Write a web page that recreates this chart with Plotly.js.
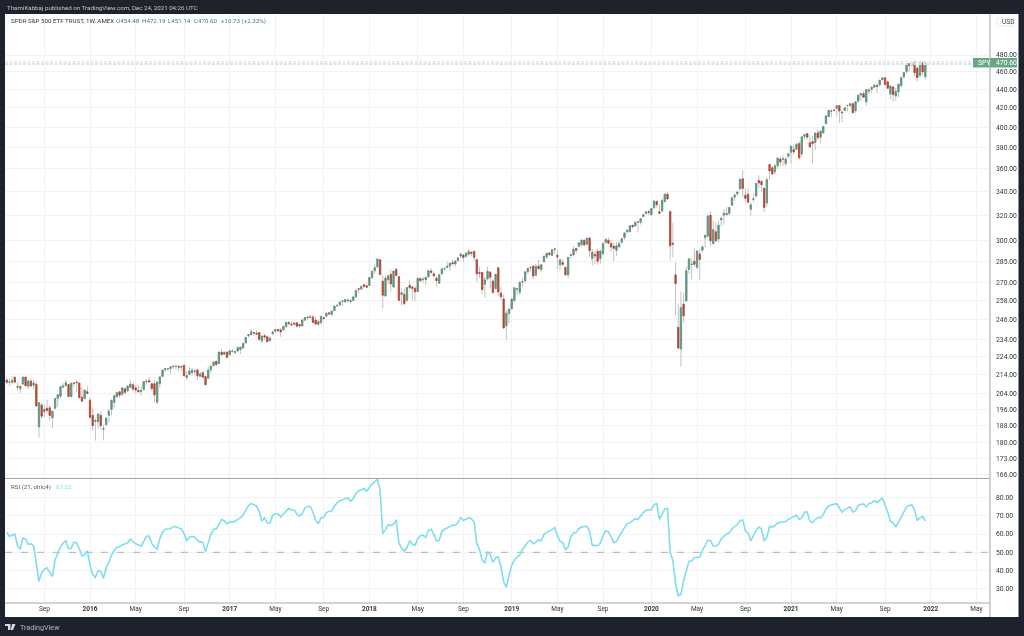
<!DOCTYPE html>
<html><head><meta charset="utf-8">
<script src="https://cdn.plot.ly/plotly-3.0.1.min.js"></script>
<style>html,body{margin:0;padding:0;background:#1e222d;overflow:hidden}#c{width:1024px;height:636px;filter:blur(0.35px)}</style>
</head><body><div id="c"></div>
<script>
// Weekly bars of SPY; first bar is the week of 2015-06-01
const firstWeek = '2015-06-01';
const opens = [
211.0,209.8,209.9,212.5,207.5,206.5,208.9,212.6,207.7,210.5,
208.3,208.7,187.5,198.1,194.8,196.5,196.7,191.8,196.5,201.4,
202.5,207.3,208.1,208.6,202.3,209.4,209.8,209.4,202.1,201.4,
204.9,200.5,193.0,190.0,189.9,193.0,186.2,188.5,193.0,195.9,
199.4,202.3,204.8,203.6,206.4,205.3,207.2,208.5,206.9,205.6,
205.0,206.0,210.0,210.7,209.0,209.1,199.5,209.1,213.0,216.5,
217.0,217.2,218.3,218.3,218.3,218.0,219.0,212.4,214.0,215.0,
215.8,216.5,213.0,215.0,212.9,212.0,216.5,218.8,221.2,220.0,
226.4,225.2,226.5,225.0,226.9,226.3,227.1,227.9,229.0,231.7,
236.0,236.7,237.9,237.6,237.9,233.0,236.0,235.4,233.1,237.2,
238.7,239.8,239.5,239.5,241.5,244.0,243.0,243.6,243.9,242.9,
241.9,245.5,247.0,247.5,247.5,245.6,243.0,244.0,247.0,248.0,
250.1,249.2,251.5,254.5,255.2,257.5,257.2,258.3,257.3,258.0,
260.4,265.8,265.6,268.5,267.8,268.0,273.3,278.2,281.0,286.0,
271.0,261.0,271.9,275.7,267.0,279.2,274.0,262.0,262.0,258.0,
268.0,267.0,266.0,264.0,272.8,272.0,272.0,274.0,278.0,276.0,
273.0,269.5,276.0,279.6,280.5,281.5,284.0,283.0,285.5,288.7,
289.5,288.5,290.0,291.5,292.0,286.0,277.0,277.0,268.8,272.5,
277.2,271.0,266.0,280.3,263.0,259.0,242.0,249.6,252.7,258.0,
265.5,263.4,270.5,271.2,277.5,280.5,281.5,275.0,281.5,279.0,
284.7,288.1,291.0,289.2,293.5,289.3,282.4,284.0,280.5,275.3,
289.4,289.5,294.2,296.0,297.0,300.5,297.5,302.3,287.0,289.9,
292.2,287.0,290.5,299.0,300.5,298.0,296.0,293.0,295.5,299.0,
302.5,307.0,307.0,312.0,311.5,314.5,314.5,319.0,321.6,322.9,
320.5,326.4,331.5,323.0,323.5,331.2,337.7,323.1,298.2,275.3,
241.2,228.2,255.7,257.8,279.0,282.6,285.0,280.7,290.3,293.0,
302.5,303.6,320.2,298.0,307.0,301.4,316.4,320.1,321.4,321.6,
328.3,335.1,338.0,342.1,351.0,336.7,337.5,325.0,333.2,336.1,
349.6,348.7,342.8,330.2,363.9,360.9,357.3,362.8,369.0,368.6,
364.9,371.7,375.3,377.9,378.3,383.7,373.7,390.7,393.5,384.5,
385.6,384.7,394.3,390.0,394.4,403.5,410.9,416.3,417.4,419.4,
422.5,415.4,417.3,422.6,422.6,424.4,416.8,427.2,433.8,435.4,
426.2,439.3,440.3,442.5,444.5,445.2,451.0,453.3,448.6,434.9,
442.8,433.0,437.2,444.0,454.3,460.3,469.7,468.6,470.9,464.1,
456.1,470.2,454.48];
const highs = [
212.3,212.0,213.3,213.0,210.0,208.2,213.1,213.0,211.3,211.5,
211.3,210.6,199.5,199.1,198.0,200.8,197.8,195.2,201.9,203.6,
207.6,209.4,211.2,208.9,209.6,210.0,211.0,209.9,207.4,206.0,
208.0,201.9,196.9,191.5,194.0,195.0,188.5,192.2,196.0,201.0,
202.8,205.0,204.9,207.0,207.0,208.4,210.9,209.8,208.2,208.5,
208.0,210.3,211.5,212.5,209.9,210.9,210.5,213.0,216.5,217.5,
217.5,218.2,219.0,219.3,219.0,218.9,219.3,216.0,218.0,217.5,
216.8,216.9,215.3,215.5,213.0,218.3,219.3,221.0,221.5,226.5,
228.3,226.9,226.7,227.8,228.3,227.6,229.7,229.6,231.5,235.2,
237.0,240.3,238.3,239.4,238.0,236.5,237.4,236.3,235.8,239.5,
239.7,240.2,240.7,241.9,244.4,245.0,244.9,244.5,244.4,243.4,
245.9,247.5,248.0,248.9,248.9,247.8,245.6,247.8,247.8,250.1,
250.7,251.3,254.4,255.0,257.1,258.4,258.7,259.3,259.0,260.5,
266.0,266.4,268.0,268.6,268.6,274.0,278.1,282.8,286.6,286.6,
275.4,275.0,274.7,278.9,278.0,280.0,275.0,265.9,266.0,267.0,
271.3,267.9,267.8,273.2,273.5,274.0,274.0,278.9,280.0,277.5,
274.4,276.0,280.0,281.0,284.5,283.7,286.0,285.8,287.6,291.0,
290.0,291.3,293.9,292.0,293.2,287.0,281.0,277.5,274.0,281.0,
278.0,272.0,275.9,280.4,267.0,262.0,252.0,253.0,259.0,266.9,
266.5,271.2,273.4,277.4,280.0,281.3,281.9,283.0,286.0,282.6,
288.9,290.7,291.0,293.5,294.9,293.3,287.0,286.5,281.0,288.0,
291.0,296.3,295.0,298.8,300.7,301.0,302.2,302.3,294.0,293.0,
294.0,293.3,298.8,302.5,302.6,300.9,298.5,299.4,300.0,302.0,
306.2,308.3,311.8,312.7,315.5,315.0,318.0,321.0,323.0,324.9,
326.0,332.2,332.2,329.0,334.2,338.1,339.1,324.0,313.8,284.2,
256.0,264.0,263.0,281.2,287.3,286.8,294.9,292.9,294.0,297.0,
304.3,321.0,323.4,315.6,314.5,315.7,319.0,325.0,327.2,326.6,
335.0,338.0,339.7,351.0,358.8,342.6,343.1,331.0,338.3,347.3,
354.0,349.6,342.9,352.2,364.4,362.0,364.2,369.9,371.0,372.5,
371.0,374.7,381.5,382.0,385.0,385.9,390.5,392.9,394.2,392.0,
390.9,394.2,398.1,396.4,400.7,412.0,417.9,418.3,419.0,422.8,
422.7,418.0,421.3,423.0,424.6,425.5,427.1,434.1,435.8,437.9,
440.3,441.8,442.9,445.3,447.1,451.0,454.0,454.1,448.9,444.9,
444.0,441.7,446.3,454.7,459.6,469.7,470.2,470.9,473.5,466.6,
470.9,472.9,472.19];
const lows = [
208.9,207.9,208.7,209.5,205.3,204.2,208.5,207.9,206.3,207.1,
206.0,197.5,182.4,191.2,192.0,194.0,190.3,186.9,196.0,197.3,
201.5,206.5,207.7,202.0,202.2,207.3,204.5,201.3,199.8,200.8,
203.8,191.4,185.7,181.0,186.8,186.5,181.1,188.1,189.8,192.9,
196.8,201.8,201.9,202.8,203.1,205.0,207.0,204.6,204.0,204.8,
202.8,205.7,208.5,209.9,205.0,199.5,198.6,207.0,213.0,215.3,
215.6,214.3,217.0,216.5,215.8,216.0,213.2,210.9,213.5,213.0,
213.5,211.2,212.5,212.0,208.4,211.5,214.5,218.7,218.4,219.8,
224.7,224.9,222.7,224.5,226.0,225.2,226.6,225.4,228.0,231.7,
235.0,236.0,235.8,237.0,232.8,231.6,233.5,232.5,232.8,236.9,
237.6,238.4,235.4,239.4,240.9,242.5,242.5,242.4,241.0,240.5,
241.5,245.1,245.6,246.5,243.7,242.5,241.8,242.7,245.7,247.9,
248.9,248.0,251.4,253.7,254.4,254.6,256.3,256.4,256.2,257.5,
259.6,262.7,264.9,266.5,266.0,267.9,273.2,276.0,280.0,275.4,
252.9,260.5,268.8,264.0,266.0,274.0,258.0,255.0,254.7,258.0,
265.7,257.8,257.8,263.5,270.1,270.0,268.0,273.5,276.0,273.4,
267.3,269.0,275.5,278.0,280.0,278.0,282.5,281.0,284.5,287.3,
284.5,287.5,288.5,288.6,285.0,270.4,273.0,262.3,259.85,271.5,
266.0,262.5,265.5,261.0,258.0,240.0,233.8,243.7,252.4,257.0,
261.5,261.7,267.0,269.6,276.0,277.5,272.4,274.4,279.0,277.0,
283.7,286.5,288.9,289.0,290.3,279.0,278.5,281.5,275.0,273.0,
287.0,288.5,290.6,295.4,295.9,296.1,297.0,288.0,281.7,283.0,
282.5,283.0,289.3,298.0,297.6,292.0,284.8,288.5,295.0,298.0,
301.0,306.0,306.8,309.5,311.0,307.0,312.6,318.9,321.0,320.0,
320.0,325.0,326.4,320.8,323.4,331.0,333.0,285.5,287.8,248.5,
228.0,218.3,243.9,257.0,275.9,272.0,281.0,279.0,272.0,291.0,
295.0,303.0,296.0,296.7,298.9,298.9,311.0,312.4,319.0,319.6,
327.7,332.0,336.2,341.5,334.9,331.4,330.0,319.8,331.0,334.7,
343.1,340.0,322.6,327.2,349.9,354.0,354.9,360.0,362.0,362.5,
362.0,369.5,364.8,373.0,378.0,368.3,371.0,387.5,387.7,380.2,
364.8,377.5,387.2,383.9,392.8,403.0,410.2,410.6,416.0,411.7,
404.0,405.3,416.9,416.3,420.6,414.7,414.7,425.6,427.5,430.9,
421.9,435.0,436.0,441.3,436.1,443.0,450.0,445.0,441.0,428.9,
426.4,427.0,431.5,443.5,452.0,458.2,460.0,465.0,454.9,448.9,
453.6,456.0,451.14];
const closes = [
209.8,210.0,210.8,209.9,207.3,207.7,212.5,208.0,210.5,207.9,
209.4,197.6,199.3,192.6,196.0,195.4,192.9,195.0,201.3,203.3,
207.5,207.9,209.6,202.4,209.3,209.3,209.6,201.9,200.0,205.7,
203.9,192.0,188.0,190.5,193.7,188.0,186.6,191.6,195.1,200.4,
202.8,204.4,203.1,206.9,204.5,207.8,208.9,206.3,205.7,204.8,
205.5,210.2,210.3,210.0,206.5,203.2,209.9,212.7,216.4,217.2,
217.1,218.2,218.5,218.5,218.0,218.4,213.3,213.4,215.8,216.3,
215.8,213.3,214.3,212.5,208.5,216.4,218.5,220.9,219.5,226.5,
225.0,226.4,223.5,227.2,227.0,226.7,229.0,229.3,231.5,235.1,
236.7,238.4,237.7,237.0,233.9,235.7,235.2,232.5,234.6,238.1,
239.7,239.0,238.3,241.7,244.2,243.4,242.6,243.1,241.8,242.1,
245.6,247.1,247.4,247.4,244.1,243.1,244.6,247.8,246.6,249.9,
249.4,251.2,254.4,254.9,257.1,257.7,258.7,258.1,257.9,260.4,
264.5,265.5,267.3,267.5,266.9,273.4,277.9,280.4,286.6,275.5,
261.5,273.1,274.7,269.1,278.0,275.0,258.1,263.1,256.0,266.6,
266.6,266.0,263.8,272.9,271.3,272.2,273.6,278.2,277.1,274.7,
271.3,275.4,279.6,279.7,281.4,283.6,283.2,285.1,287.5,290.3,
287.6,290.9,292.0,290.7,287.8,276.0,276.3,265.3,271.9,277.8,
273.7,263.3,275.7,263.6,260.5,240.7,249.9,252.4,259.0,266.5,
265.8,270.1,270.4,277.4,279.9,280.4,274.5,281.3,279.6,282.5,
288.6,290.7,290.0,293.4,294.0,288.1,285.8,282.8,275.3,287.7,
289.3,293.7,293.0,298.5,300.7,297.0,302.0,292.6,291.6,288.9,
284.9,292.4,298.1,301.1,298.3,295.4,294.4,296.3,297.9,301.6,
306.1,308.3,311.8,311.0,314.3,314.9,317.3,320.7,322.9,322.4,
325.7,331.9,328.8,321.7,332.2,337.6,333.5,296.3,297.5,269.3,
228.8,253.4,248.2,278.2,286.6,283.0,282.8,292.4,286.3,295.4,
304.3,319.3,300.1,308.6,300.1,312.2,317.6,321.7,320.9,326.5,
334.6,336.8,339.5,350.6,342.6,334.1,330.7,328.7,333.8,346.9,
347.3,345.8,326.5,350.2,358.1,355.3,362.7,369.9,366.3,369.2,
369.0,373.9,381.3,375.7,382.9,370.1,390.3,392.6,390.0,380.4,
383.6,394.1,389.5,396.0,400.6,411.5,417.3,416.7,417.3,422.1,
416.6,414.9,420.0,422.6,424.3,414.9,426.6,433.7,435.5,431.3,
439.9,438.5,442.5,445.0,443.4,450.3,453.1,445.4,441.4,443.9,
434.2,437.9,445.9,453.1,459.25,468.5,467.3,468.9,459.0,453.4,
470.7,459.9,470.60];
const rsi = [
61,58.7,59.3,60,53.8,51.6,57.8,57.3,54.4,54.7,
53.5,43.8,34.2,38.9,40.7,41.6,38.9,36.7,46,49.3,
52.9,55.1,56.4,52,52.2,55.5,55.1,52,48,48.7,
50.9,42.9,38,36.3,40,39.6,35.8,41.6,44.5,48.4,
51.1,52.7,53.1,54.2,54.6,55.1,57.3,56,54.7,54.2,
53.3,56,58.6,58.9,54.9,52.9,51.8,57.5,61.1,62.6,
62.6,62.9,64,64,63.3,62.8,60.2,56.4,58.2,58.6,
58.4,56.6,55.5,55.5,50.5,55.6,59.8,62.6,62.8,65.3,
67.9,67.3,65.5,66.6,66.9,66.9,68,68.8,70.4,73.3,
75.5,76.6,76,75.3,72,67.1,68.9,66,66,70.2,
71.1,71.1,69.3,70.9,73,74,73.1,73.1,70.9,69.9,
71.1,74.2,75,75,72,67.5,65.7,68.8,69.1,71.7,
72.4,72.6,75.3,77,78,78.8,79.3,79.7,77.9,79.3,
82.1,83.5,84.1,84.8,83.5,85.3,87.3,88.4,89.9,83.9,
60.2,62.4,65.1,64.6,65.3,67.7,55.1,52.4,50.7,52.6,
56.2,54.4,53.8,57.5,59.1,59.3,58.2,62,62.6,59.8,
56.2,56.6,61.5,62.6,63.5,64,64.9,64.8,66.4,68.9,
67.5,68,68.9,68.2,66.6,54.9,51.5,45.6,44.4,50.4,
48.9,44.5,47,47.6,42,34,30.9,37.4,42.9,45.8,
47.1,48.7,51.5,53.8,55.6,56.4,54.7,55.5,56.9,56.2,
59.8,60.9,61.5,62.4,63.5,59.1,56,55.3,51.5,52.9,
58.7,60.4,60.9,62.9,63.8,64.2,64.2,61.3,53.8,53.8,
53.6,55.1,59.3,61.7,61.3,58.4,55.3,56,58.9,61.1,
63.5,65.7,66.2,67.3,68.4,68,69.9,71.7,73,73,
73.3,76,76.6,68,70.6,73.7,73.9,50,45.6,32.9,
26.3,27,34.7,40.2,45.1,45.3,47.1,47.3,47.5,50.9,
53.8,56.6,56.4,53.5,53.5,54.4,57.3,58.7,60,60.6,
62.9,64,65.1,67.3,67.7,61.5,60.6,56.2,59.3,62,
63.8,62.8,56.2,58.4,64.2,63.8,64.6,66,66.4,66.8,
66.8,68,68.9,69.5,70.4,68,68.8,72,72,67.1,
66.2,67.9,69.1,68.8,70.6,73.7,75.3,75.9,76.2,76.6,
74.2,71.9,73.3,74.2,74.8,72,72.6,75.5,76.2,76.4,
74.8,76.6,77.1,78.2,77.1,78.4,79.7,75.7,72,66.9,
66.2,63.8,66.6,69.7,72.6,74.8,75.5,75.9,73,67.5,
68.8,69.7,67.22];

const priceTicks = [480,460,440,420,400,380,360,340,320,300,285,270,258,246,234,224,214,204,196,188,180,173,166];
const rsiTicks = [80,70,60,50,40,30];
const timeTickDates = ['2015-09-07','2016-01-04','2016-05-02','2016-09-05','2017-01-02','2017-05-01','2017-09-04','2018-01-01','2018-05-07','2018-09-03','2019-01-07','2019-05-06','2019-09-02','2020-01-06','2020-05-04','2020-09-07','2021-01-04','2021-05-03','2021-09-06','2022-01-03','2022-05-02'];
const timeTickLabels = ['Sep','<b>2016</b>','May','Sep','<b>2017</b>','May','Sep','<b>2018</b>','May','Sep','<b>2019</b>','May','Sep','<b>2020</b>','May','Sep','<b>2021</b>','May','Sep','<b>2022</b>','May'];
const upperLastLine = 471.9, lowerLastLine = 469.2, rsiMidline = 50;
const xRange = ['2015-05-27 10:00','2022-06-06 12:00'];
const priceRange = [Math.log10(164.5), Math.log10(532.5)];
const rsiRange = [22.35, 90.3];

const GREEN='#649f83', RED='#c44836', WICK='#c2c2c2', BG='#1e222d', INK='#33363f', GRID='#f0f2f5';
const FONT='Roboto, "Open Sans", sans-serif';

const weeks = closes.map((_,i)=>new Date(Date.parse(firstWeek+'T00:00:00Z')+i*7*864e5).toISOString().slice(0,10));
const fmt2 = v=>v.toFixed(2);

// page-pixel helpers for the chrome only (frame, labels, logo)
const L=5,R=34,T=14,B=33,W=1024,H=636,PW=W-L-R,PH=H-T-B;
const X=p=>(p-L)/PW, Y=p=>(T+PH-p)/PH;
const pane = 478.5;

const traces = [
 {type:'candlestick',x:weeks,open:opens,high:highs,low:lows,close:closes,xaxis:'x',yaxis:'y',
  increasing:{line:{color:WICK,width:1},fillcolor:WICK},decreasing:{line:{color:WICK,width:1},fillcolor:WICK},
  whiskerwidth:0,hoverinfo:'skip',showlegend:false},
 {type:'candlestick',x:weeks,open:opens,close:closes,
  high:opens.map((o,i)=>Math.max(o,closes[i])),low:opens.map((o,i)=>Math.min(o,closes[i])),xaxis:'x',yaxis:'y',
  increasing:{line:{color:'#4f8f70',width:0.6},fillcolor:GREEN},decreasing:{line:{color:'#b23a2a',width:0.6},fillcolor:RED},
  whiskerwidth:0,hoverinfo:'skip',showlegend:false},
 {type:'scatter',mode:'lines',x:xRange,y:[upperLastLine,upperLastLine],xaxis:'x',yaxis:'y',line:{color:'#f6dfd4',width:1.4,dash:'3px,1.5px'},hoverinfo:'skip',showlegend:false},
 {type:'scatter',mode:'lines',x:xRange,y:[lowerLastLine,lowerLastLine],xaxis:'x',yaxis:'y',line:{color:'#cbe8f6',width:2,dash:'3px,1.5px'},hoverinfo:'skip',showlegend:false},
 {type:'scatter',mode:'lines',x:xRange,y:[rsiMidline,rsiMidline],xaxis:'x',yaxis:'y2',line:{color:'#b4b4b4',width:1,dash:'7px,9px'},hoverinfo:'skip',showlegend:false},
 {type:'scatter',mode:'lines',x:weeks,y:rsi,xaxis:'x',yaxis:'y2',line:{color:'#7fdeee',width:1.6},hoverinfo:'skip',showlegend:false}
];

const ann=(text,px,py,opt={})=>Object.assign({text,xref:'paper',yref:'paper',x:X(px),y:Y(py),xanchor:'left',yanchor:'middle',showarrow:false,font:{family:FONT,size:6.2,color:INK}},opt);
const box=(x0,y0,x1,y1,fill,layer='above')=>({type:'rect',xref:'paper',yref:'paper',x0:X(x0),x1:X(x1),y0:Y(y1),y1:Y(y0),fillcolor:fill,line:{width:0},layer});
const line=(x0,y0,x1,y1,color,width)=>({type:'line',xref:'paper',yref:'paper',x0:X(x0),x1:X(x1),y0:Y(y0),y1:Y(y1),line:{color,width},layer:'above'});
const pp=pts=>'M'+pts.map(([a,b])=>X(a)+','+Y(b)).join('L')+'Z';

const layout = {
 width:W,height:H,margin:{l:L,r:R,t:T,b:B,pad:0},paper_bgcolor:BG,plot_bgcolor:'rgba(0,0,0,0)',showlegend:false,
 xaxis:{type:'date',range:xRange,rangeslider:{visible:false},anchor:'y2',tickmode:'array',tickvals:timeTickDates,ticktext:timeTickLabels,
  ticks:'',showgrid:true,gridcolor:GRID,gridwidth:1,zeroline:false,showline:false,tickfont:{family:FONT,size:6.5,color:INK},ticklabeloverflow:'allow'},
 yaxis:{type:'log',range:priceRange,domain:[Y(pane),1],side:'right',anchor:'x',tickmode:'array',tickvals:priceTicks,ticktext:priceTicks.map(fmt2),ticklabelstandoff:5,
  ticks:'',showgrid:true,gridcolor:GRID,gridwidth:1,zeroline:false,showline:false,tickfont:{family:FONT,size:6.8,color:INK}},
 yaxis2:{type:'linear',range:rsiRange,domain:[0,Y(pane)],side:'right',anchor:'x',tickmode:'array',tickvals:rsiTicks,ticktext:rsiTicks.map(fmt2),ticklabelstandoff:5,
  ticks:'',showgrid:true,gridcolor:GRID,gridwidth:1,zeroline:false,showline:false,tickfont:{family:FONT,size:6.8,color:INK}},
 shapes:[
  box(5,14,1018.5,617,'#ffffff','below'),
  line(5,pane,990,pane,'#a3a3a3',1),
  line(5,603,990,603,'#a8a8a8',1),
  line(990,14,990,617,'#c6c6c6',1.6),
  box(973,58,989.3,67.5,'#6aa686'),
  box(990,58,1017,67.5,'#6aa686'),
  {type:'rect',xref:'paper',yref:'paper',x0:X(997),x1:X(1013),y0:Y(26),y1:Y(18),fillcolor:'#ffffff',line:{color:'#e0e3eb',width:0.8},layer:'above'},
  {type:'path',xref:'paper',yref:'paper',path:pp([[5,624],[10.5,624],[10.5,630],[8,630],[8,626],[5,626]]),fillcolor:'#d8dae0',line:{width:0}},
  {type:'path',xref:'paper',yref:'paper',path:pp([[12,624],[15.5,624],[13,630],[10.8,630]]),fillcolor:'#d8dae0',line:{width:0}}
 ],
 annotations:[
  ann('ThamiKabbaj published on TradingView.com, Dec 24, 2021 04:26 UTC',5,7.8,{font:{family:FONT,size:6.2,color:'#c3c6cf'}}),
  ann('SPDR S&P 500 ETF TRUST, 1W, AMEX',9,21.5),
  ann('O454.48',114,21.5,{font:{family:FONT,size:6.2,color:'#3d7f62'}}),
  ann('H472.19',140,21.5,{font:{family:FONT,size:6.2,color:'#3d7f62'}}),
  ann('L451.14',166,21.5,{font:{family:FONT,size:6.2,color:'#3d7f62'}}),
  ann('C470.60',192,21.5,{font:{family:FONT,size:6.2,color:'#3d7f62'}}),
  ann('+10.73 (+2.33%)',218.5,21.5,{font:{family:FONT,size:6.2,color:'#3d7f62'}}),
  ann('USD',999.5,22,{font:{family:FONT,size:6.6,color:INK}}),
  ann('RSI (21, ohlc4)',9,486.5,{font:{family:FONT,size:6.2,color:'#55585f'}}),
  ann('67.22',54,486.5,{font:{family:FONT,size:6.2,color:'#7fdeee'}}),
  ann('SPY',976,62.8,{font:{family:FONT,size:6.8,color:'#ffffff'}}),
  ann('470.60',994,62.8,{font:{family:FONT,size:6.8,color:'#ffffff'}}),
  ann('TradingView',17.5,627,{font:{family:FONT,size:7.2,color:'#b4b7c0'}})
 ]
};
Plotly.newPlot('c',traces,layout,{staticPlot:true,displayModeBar:false});
</script></body></html>
